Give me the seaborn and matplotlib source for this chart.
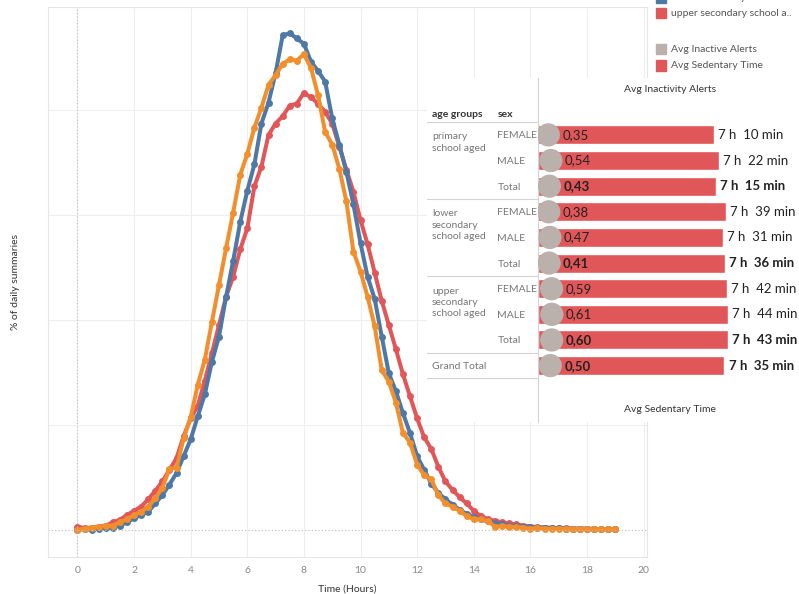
import numpy as np
import pandas as pd
import seaborn as sns
import matplotlib.pyplot as plt
from matplotlib.patches import Rectangle

# time of day in quarter-hour steps
hours = np.arange(0, 19.01, 0.25)

# % of daily summaries per age group
primary = [0.0, 0.01, 0.02, 0.03, 0.035, 0.04, 0.07, 0.10, 0.14, 0.17, 0.22, 0.30, 0.40, 0.58, 0.59, 0.87,
           1.07, 1.38, 1.62, 1.98, 2.33, 2.68, 3.02, 3.38, 3.58, 3.83, 4.02, 4.24, 4.33, 4.44, 4.48, 4.47,
           4.53, 4.40, 4.14, 3.79, 3.67, 3.44, 3.13, 2.65, 2.46, 2.22, 1.94, 1.52, 1.41, 1.21, 0.92, 0.83,
           0.62, 0.52, 0.48, 0.33, 0.25, 0.22, 0.18, 0.13, 0.10, 0.10, 0.08, 0.03, 0.035, 0.03, 0.025, 0.02,
           0.01, 0.015, 0.01, 0.01, 0.01, 0.005, 0.01, 0.005, 0.005, 0.005, 0.005, 0.005, 0.005]
lower_sec = [0.0, 0.005, 0.0, 0.01, 0.015, 0.02, 0.04, 0.07, 0.11, 0.14, 0.17, 0.25, 0.33, 0.43, 0.54, 0.70,
             0.86, 1.08, 1.29, 1.60, 1.84, 2.22, 2.56, 2.93, 3.23, 3.48, 3.87, 4.07, 4.35, 4.71, 4.73, 4.68,
             4.63, 4.46, 4.37, 4.27, 3.92, 3.67, 3.41, 3.10, 2.73, 2.41, 2.20, 1.84, 1.49, 1.32, 1.11, 0.92,
             0.70, 0.57, 0.44, 0.35, 0.29, 0.24, 0.19, 0.15, 0.12, 0.10, 0.08, 0.06, 0.05, 0.04, 0.035, 0.03,
             0.025, 0.02, 0.02, 0.015, 0.015, 0.01, 0.01, 0.01, 0.008, 0.008, 0.005, 0.005, 0.005]
upper_sec = [0.03, 0.016, 0.02, 0.03, 0.04, 0.07, 0.095, 0.14, 0.18, 0.22, 0.29, 0.37, 0.46, 0.57, 0.68, 0.89,
             1.06, 1.18, 1.42, 1.68, 1.95, 2.22, 2.41, 2.67, 2.87, 3.27, 3.46, 3.76, 3.87, 3.94, 4.04, 4.06,
             4.16, 4.12, 4.06, 3.98, 3.87, 3.65, 3.43, 3.22, 2.95, 2.72, 2.45, 2.18, 1.95, 1.72, 1.48, 1.27,
             1.06, 0.88, 0.77, 0.60, 0.46, 0.38, 0.31, 0.25, 0.18, 0.13, 0.10, 0.085, 0.07, 0.06, 0.05, 0.04,
             0.03, 0.025, 0.02, 0.02, 0.015, 0.015, 0.01, 0.01, 0.01, 0.008, 0.005, 0.005, 0.005]

# summary table
group_labels = ['primary\nschool aged', 'lower\nsecondary\nschool aged', 'upper\nsecondary\nschool aged', 'Grand Total']
sexes = ['FEMALE', 'MALE', 'Total', 'FEMALE', 'MALE', 'Total', 'FEMALE', 'MALE', 'Total', '']
alerts = [0.35, 0.54, 0.43, 0.38, 0.47, 0.41, 0.59, 0.61, 0.60, 0.50]
sedentary_min = [430, 442, 435, 459, 451, 456, 462, 464, 463, 455]
is_total = [False, False, True, False, False, True, False, False, True, True]

BLUE, ORANGE, RED, GREY = '#4E79A7', '#F28E2B', '#E15759', '#BAB0AC'

sns.set_style('white')
plt.rcParams['font.family'] = ['Lato', 'DejaVu Sans']

W, H = 799, 594
fig = plt.figure(figsize=(W / 100, H / 100), dpi=100)


def box(x0, y0, x1, y1):
    return [x0 / W, 1 - y1 / H, (x1 - x0) / W, (y1 - y0) / H]


# ---- line chart ----
ax = fig.add_axes(box(48, 7, 646.7, 557), zorder=1)
for vals, col in [(upper_sec, RED), (lower_sec, BLUE), (primary, ORANGE)]:
    sns.lineplot(x=hours, y=vals, color=col, marker='o', markersize=5, markeredgewidth=0,
                 linewidth=2.9, ax=ax)
ax.set_xlim(-1.04, 20.11)
ax.set_ylim(-0.26, 4.98)
ax.set_xticks(range(0, 21, 2))
ax.set_yticks([1, 2, 3, 4])
ax.grid(True, color='#eeeeee', lw=0.8)
ax.axhline(0, color='#bdbdbd', ls=(0, (1, 2)), lw=0.8)
ax.axvline(0, color='#bdbdbd', ls=(0, (1, 2)), lw=0.8)
ax.tick_params(left=False, bottom=False, labelleft=False, labelsize=7.5, labelcolor='#888888', pad=3)
for sp in ax.spines.values():
    sp.set_color('#e6e6e6')
ax.set_xlabel('Time (Hours)', fontsize=7.5, color='#333333', labelpad=7)
ax.set_ylabel('% of daily summaries', fontsize=7.5, color='#333333', labelpad=20)

# ---- table panel ----
panel = fig.add_axes(box(427, 78, 799, 422), zorder=2)
panel.set_facecolor('white')
panel.set_xticks([])
panel.set_yticks([])
for sp in panel.spines.values():
    sp.set_visible(False)

axb = fig.add_axes(box(537.7, 78, 799, 422), zorder=3)
axb.patch.set_visible(False)
df = pd.DataFrame({'row': [str(i) for i in range(len(alerts))], 'minutes': sedentary_min})
sns.barplot(data=df, y='row', x='minutes', orient='h', color=RED, saturation=1, width=0.74, ax=axb)

ax2 = axb.twiny()
ax2.set_zorder(4)
ax2.patch.set_visible(False)
sns.scatterplot(x=alerts, y=np.arange(len(alerts)), s=280, color=GREY, edgecolor='none', ax=ax2)
ax2.set_xlim(-0.44, 18.97)

for a in (axb, ax2):
    a.set_ylim(11.2, -2.22)
    a.set_xlabel('')
    a.set_ylabel('')
    a.set_xticks([])
    a.set_yticks([])
    for sp in a.spines.values():
        sp.set_visible(False)
axb.set_xlim(0, 637)
axb.spines['left'].set_visible(True)
axb.spines['left'].set_color('#d4d4d4')

for i, (a, m, t) in enumerate(zip(alerts, sedentary_min, is_total)):
    w = 'bold' if t else 'normal'
    ax2.annotate(f'{a:.2f}'.replace('.', ','), (a, i), xytext=(10, 0), textcoords='offset points',
                 va='center', ha='left', fontsize=9.5, color='#222222', fontweight=w)
    axb.annotate(f'{m // 60} h  {m % 60} min', (m, i), xytext=(3, 0), textcoords='offset points',
                 va='center', ha='left', fontsize=9.5, color='#222222', fontweight=w)

trans = axb.get_yaxis_transform()
gx, sx = -0.4045, -0.1546
for lab, yc in zip(group_labels, [0.29, 3.53, 6.54, 9.02]):
    axb.text(gx, yc, lab, transform=trans, va='center', ha='left', fontsize=7.5,
             color='#777777', linespacing=1.35, clip_on=False)
for i, s in enumerate(sexes):
    axb.text(sx, i + 0.04, s, transform=trans, va='center', ha='left', fontsize=7.5,
             color='#777777', clip_on=False)
axb.text(gx, -0.78, 'age groups', transform=trans, va='center', ha='left', fontsize=7.5,
         color='#333333', fontweight='bold', clip_on=False)
axb.text(sx, -0.78, 'sex', transform=trans, va='center', ha='left', fontsize=7.5,
         color='#333333', fontweight='bold', clip_on=False)
for yl in [-0.52, 2.51, 5.52, 8.49, 9.49]:
    axb.plot([-0.4247, 0], [yl, yl], transform=trans, color='#d4d4d4', lw=0.8, clip_on=False)

axb.text(0.506, (422 - 90) / 344, 'Avg Inactivity Alerts', transform=axb.transAxes, ha='center',
         va='center', fontsize=7.5, color='#333333')
axb.text(0.506, (422 - 410) / 344, 'Avg Sedentary Time', transform=axb.transAxes, ha='center',
         va='center', fontsize=7.5, color='#333333')

# ---- legends (top right, partly cut off as in the source) ----
for label, col, yc in [('lower secondary school a..', BLUE, -2.2),
                       ('upper secondary school a..', RED, 13.3),
                       ('Avg Inactive Alerts', GREY, 49.3),
                       ('Avg Sedentary Time', RED, 65.5)]:
    fig.add_artist(Rectangle((656 / W, 1 - (yc + 5) / H), 9.7 / W, 10 / H, color=col,
                             transform=fig.transFigure))
    fig.text(671 / W, 1 - yc / H, label, va='center', ha='left', fontsize=7.5, color='#555555')

fig.savefig('out.png', dpi=100)
